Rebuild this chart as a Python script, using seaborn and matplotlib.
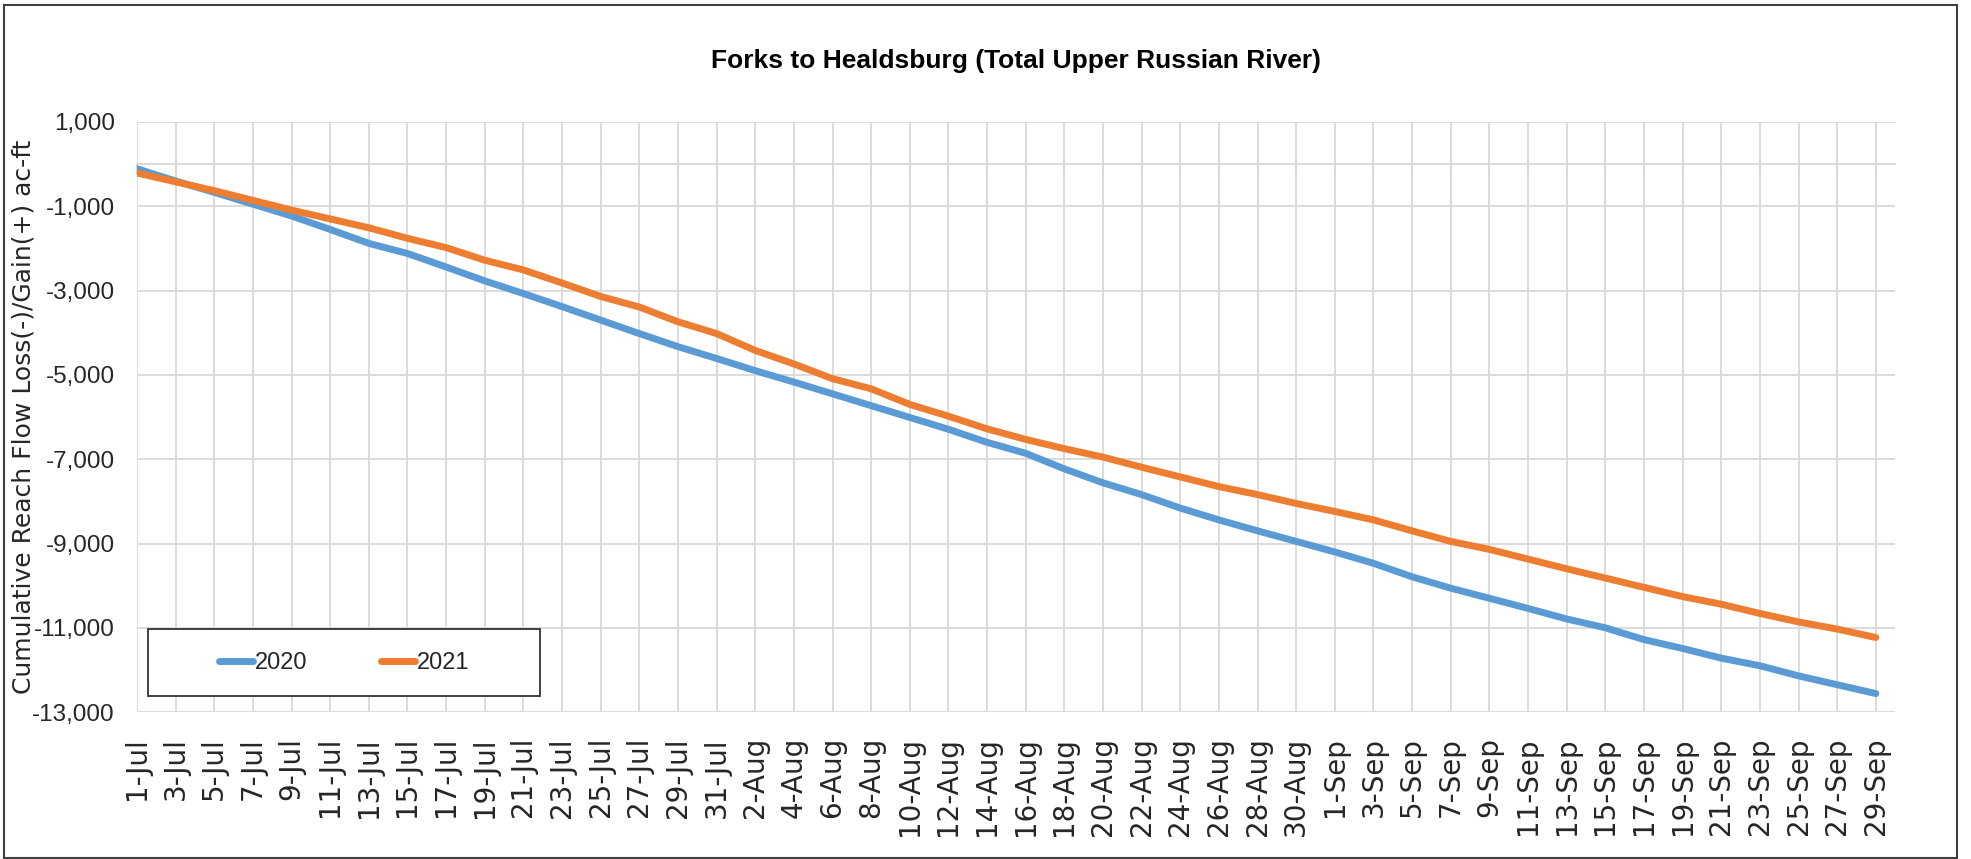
import pandas as pd
import numpy as np
import matplotlib
matplotlib.use('Agg')
import matplotlib.pyplot as plt
import seaborn as sns
from matplotlib.patches import Rectangle, Shadow
from matplotlib.ticker import FuncFormatter

# Datas (a cada 2 dias) e fluxo acumulado
dates = ['1-Jul', '3-Jul', '5-Jul', '7-Jul', '9-Jul', '11-Jul', '13-Jul', '15-Jul',
         '17-Jul', '19-Jul', '21-Jul', '23-Jul', '25-Jul', '27-Jul', '29-Jul', '31-Jul',
         '2-Aug', '4-Aug', '6-Aug', '8-Aug', '10-Aug', '12-Aug', '14-Aug', '16-Aug',
         '18-Aug', '20-Aug', '22-Aug', '24-Aug', '26-Aug', '28-Aug', '30-Aug',
         '1-Sep', '3-Sep', '5-Sep', '7-Sep', '9-Sep', '11-Sep', '13-Sep', '15-Sep',
         '17-Sep', '19-Sep', '21-Sep', '23-Sep', '25-Sep', '27-Sep', '29-Sep']

flow_2020 = [-110, -400, -670, -950, -1230, -1550, -1880, -2120,
             -2440, -2770, -3070, -3380, -3700, -4020, -4330, -4610,
             -4900, -5170, -5450, -5730, -6010, -6290, -6600, -6860,
             -7230, -7560, -7840, -8160, -8440, -8700, -8950,
             -9200, -9470, -9790, -10060, -10300, -10540, -10790, -11000,
             -11280, -11490, -11720, -11900, -12140, -12350, -12560]

flow_2021 = [-210, -420, -630, -860, -1090, -1300, -1510, -1760,
             -1980, -2280, -2510, -2820, -3140, -3390, -3740, -4020,
             -4420, -4740, -5090, -5330, -5700, -5980, -6280, -6530,
             -6750, -6950, -7190, -7420, -7650, -7840, -8050,
             -8240, -8440, -8700, -8950, -9140, -9370, -9600, -9820,
             -10040, -10260, -10440, -10660, -10860, -11030, -11230]

years = ['2020', '2021']
colors = {'2020': '#5B9BD5', '2021': '#ED7D31'}

sns.set_theme(style='white')
plt.rcParams['font.family'] = ['DejaVu Sans']
arial = ['Liberation Sans', 'DejaVu Sans']

# dia relativo ao 1-Jul
dias = pd.to_datetime([d + '-2021' for d in dates], format='%d-%b-%Y')
dia = np.asarray((dias - dias[0]).days)

df = pd.DataFrame({
    'Dia': np.concatenate([dia, dia]),
    'Fluxo': flow_2020 + flow_2021,
    'Ano': [years[0]] * len(dates) + [years[1]] * len(dates),
})

fig = plt.figure(figsize=(19.71, 8.59), dpi=100)
ax = fig.add_axes([0.0695, 0.171, 0.892, 0.687])

sns.lineplot(data=df, x='Dia', y='Fluxo', hue='Ano', palette=colors, linewidth=5,
             legend=False, ax=ax, solid_capstyle='round', zorder=3)

ax.set_xlim(0, dia[-1] + 1)
ax.set_ylim(-13000, 1000)
ax.set_xticks(dia)
ax.set_xticklabels(dates, rotation=90, fontsize=20)
ax.set_yticks(np.arange(-13000, 1001, 2000))
ax.yaxis.set_major_formatter(FuncFormatter(lambda v, p: f'{int(v):,}'))
for lab in ax.get_yticklabels():
    lab.set_family(arial)
    lab.set_fontsize(17.5)
ax.tick_params(axis='x', length=0, pad=18)
ax.tick_params(axis='y', length=0, pad=16)
ax.set_xlabel('')
ax.set_ylabel('')
ax.grid(True, color='#D9D9D9', linewidth=1.3, zorder=0)
for s in ax.spines.values():
    s.set_visible(False)

# eixo de categorias cruzando em 0
sec = ax.secondary_xaxis(13000 / 14000)
sec.set_xticks(dia)
sec.tick_params(direction='in', length=8, width=1.2, color='#C8C8C8', labeltop=False, labelbottom=False)
for s in sec.spines.values():
    s.set_color('#D9D9D9')
    s.set_linewidth(1.3)

# legenda com caixa e sombra
box = Rectangle((0.0065, 0.027), 0.223, 0.113, transform=ax.transAxes,
                facecolor='white', edgecolor='#404040', linewidth=1.4, zorder=4)
ax.add_patch(Shadow(box, 3, -3, shade=0.4, zorder=3.9))
ax.add_patch(box)
leg = ax.legend(ax.get_lines()[:2], years, loc='center',
                bbox_to_anchor=(0.0065 + 0.223 / 2, 0.027 + 0.113 / 2),
                frameon=False, ncol=2, handlelength=1.45, handletextpad=0.08,
                columnspacing=3.1, prop={'family': arial, 'size': 17})
leg.set_zorder(5)

fig.text(0.5155, 0.929, 'Forks to Healdsburg (Total Upper Russian River)',
         ha='center', va='center', fontsize=19, fontweight='bold', family=arial,
         color='black')
fig.text(0.0117, 0.515, 'Cumulative Reach Flow Loss(-)/Gain(+) ac-ft',
         ha='center', va='center', rotation=90, fontsize=18)

fig.patches.append(Rectangle((0.002, 0.001), 0.991, 0.993, transform=fig.transFigure,
                             fill=False, edgecolor='#404040', linewidth=1.5))

plt.savefig('out.png', dpi=100)
